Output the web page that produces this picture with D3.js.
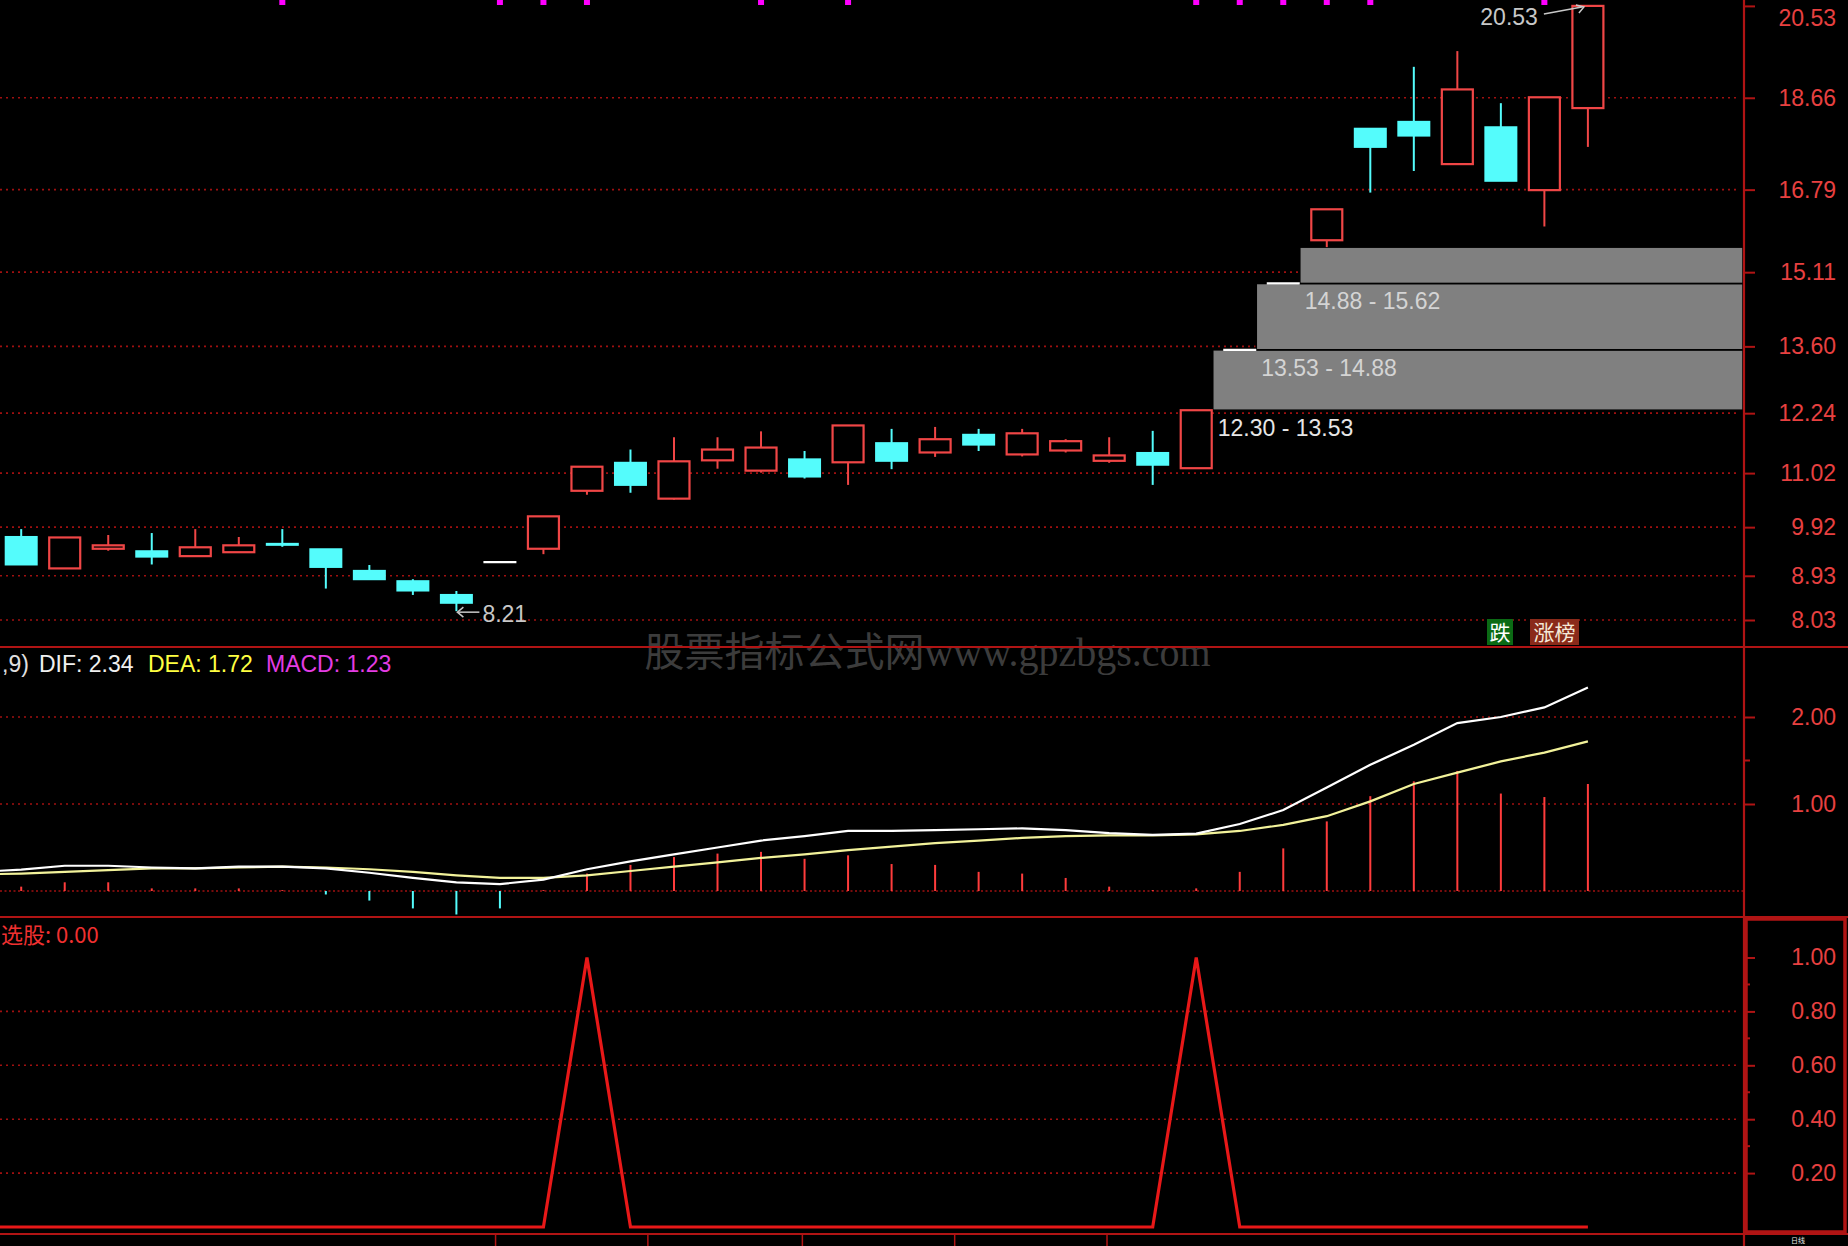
<!DOCTYPE html>
<html><head><meta charset="utf-8">
<script src="https://cdn.jsdelivr.net/npm/d3@7"></script>
<style>html,body{margin:0;padding:0;background:#000;overflow:hidden}svg{display:block}</style>
</head><body>
<svg id="c" width="1848" height="1246"></svg>
<script>
// ---------- data ----------
const openP  = [9.72,9.08,9.48,9.43,9.33,9.41,9.58,9.47,9.03,8.82,8.54,9.21,9.48,10.66,11.23,10.50,11.28,11.07,11.30,11.24,11.63,11.44,11.80,11.40,11.48,11.27,11.43,11.12,13.53,14.88,15.76,18.03,18.17,17.31,18.06,16.78,18.45];
const highP  = [9.88,9.71,9.76,9.80,9.88,9.72,9.88,9.47,9.15,8.86,8.62,9.21,10.14,11.15,11.50,11.75,11.75,11.87,11.47,11.99,11.92,11.96,11.92,11.92,11.71,11.75,11.88,12.30,13.53,14.88,16.39,18.03,19.29,19.61,18.55,18.67,20.53];
const lowP   = [9.16,9.08,9.44,9.16,9.33,9.41,9.52,8.67,8.86,8.54,8.21,9.21,9.37,10.58,10.62,10.48,11.11,11.03,10.91,10.78,11.10,11.35,11.47,11.36,11.44,11.23,10.78,11.12,13.53,14.88,15.62,16.73,17.17,17.31,16.97,16.04,17.66];
const closeP = [9.16,9.71,9.55,9.32,9.51,9.55,9.56,9.11,8.86,8.63,8.38,9.21,10.14,11.15,10.78,11.26,11.50,11.54,10.95,11.99,11.27,11.71,11.60,11.83,11.67,11.38,11.19,12.30,13.53,14.88,16.39,17.66,17.89,18.83,16.97,18.67,20.53];
// indicator series: first value belongs to the day just before the visible window
const difV = [0.22,0.245,0.29,0.29,0.27,0.26,0.28,0.28,0.26,0.21,0.15,0.10,0.08,0.13,0.25,0.34,0.42,0.50,0.58,0.63,0.69,0.69,0.70,0.71,0.72,0.70,0.665,0.645,0.66,0.77,0.93,1.19,1.45,1.68,1.93,2.00,2.11,2.34];
const deaV = [0.19,0.20,0.22,0.24,0.26,0.26,0.27,0.28,0.27,0.25,0.22,0.18,0.15,0.15,0.18,0.23,0.28,0.33,0.38,0.42,0.47,0.51,0.55,0.58,0.61,0.63,0.64,0.64,0.65,0.69,0.76,0.86,1.03,1.23,1.36,1.49,1.59,1.72];
const selV = [0,0,0,0,0,0,0,0,0,0,0,0,0,0,1,0,0,0,0,0,0,0,0,0,0,0,0,0,1,0,0,0,0,0,0,0,0,0];
const macdV = [0.05,0.10,0.10,0.03,0.03,0.03,0.01,-0.04,-0.11,-0.20,-0.27,-0.20,0.01,0.20,0.30,0.39,0.43,0.45,0.37,0.41,0.31,0.30,0.22,0.20,0.15,0.05,0.01,0.03,0.22,0.49,0.80,1.09,1.26,1.38,1.12,1.08,1.23];
const gapLow   = [12.30,13.53,14.88];
const gapHigh  = [13.53,14.88,15.62];
const gapStart = [27,28,29];
const markerIdx = [6,11,12,13,17,19,27,28,29,30,31,35];
const priceTicks = [20.53,18.66,16.79,15.11,13.60,12.24,11.02,9.92,8.93,8.03];
const macdTicks = [2.00,1.00];
const macdMinor = [1.5];
const selTicks = [1.00,0.80,0.60,0.40,0.20];
const selMinor = [0.9,0.7,0.5,0.3];
const dateTickIdx = [10.9,14.4,17.95,21.45,24.95];
const legendMacd = {head:",9)", dif:"DIF: 2.34", dea:"DEA: 1.72", macd:"MACD: 1.23"};
const legendSel = "选股: 0.00";

// ---------- layout ----------
const svg = d3.select('#c');
const AX = 1744;
const FONT = '"Liberation Sans", Arial, sans-serif';
const RED = '#f04646', CYAN = '#54fcfc', AXC = '#b01414', GRID = '#a01010';
const x = d3.scaleLinear().domain([0,36]).range([21.2,1587.9]);
const bw = 33;
const yP = d3.scaleLinear().domain([8.03,20.53]).range([620,5.9]);
const yM = d3.scaleLinear().domain([0,2]).range([891,717]);
const yS = d3.scaleLinear().domain([0,1]).range([1227,957.5]);

svg.append('rect').attr('width',1848).attr('height',1246).attr('fill','#000');

// watermark
svg.append('text').attr('x',787*1848/1568).attr('y',666).attr('text-anchor','middle')
  .attr('font-family','"Liberation Serif","Noto Sans CJK SC",serif')
  .attr('font-size',40).attr('fill','#3c3c3c').text('股票指标公式网www.gpzbgs.com');

// gridlines
const grid = svg.append('g').attr('stroke',GRID).attr('stroke-width',1.6).attr('stroke-dasharray','2,4');
priceTicks.slice(1).forEach(v=>grid.append('line').attr('x1',0).attr('x2',AX-4).attr('y1',yP(v)).attr('y2',yP(v)));
macdTicks.forEach(v=>grid.append('line').attr('x1',0).attr('x2',AX-4).attr('y1',yM(v)).attr('y2',yM(v)));
grid.append('line').attr('x1',0).attr('x2',AX).attr('y1',yM(0)).attr('y2',yM(0)).attr('stroke-dasharray','2,2.5');
selTicks.slice(1).forEach(v=>grid.append('line').attr('x1',0).attr('x2',AX-4).attr('y1',yS(v)).attr('y2',yS(v)));

// gap boxes
const gb = svg.append('g');
gapLow.forEach((lo,k)=>{
  const x0 = x(gapStart[k]) + bw/2;
  gb.append('rect').attr('x',x0).attr('y',yP(gapHigh[k])).attr('width',AX-1-x0)
    .attr('height',yP(lo)-yP(gapHigh[k])).attr('fill','#808080').attr('stroke','#000').attr('stroke-width',1.6);
  gb.append('text').attr('x',x0+5).attr('y',yP(lo)+26).attr('font-family',FONT).attr('font-size',23)
    .attr('fill',k===0?'#e6e6e6':'#d4d4d4').text(lo.toFixed(2)+' - '+gapHigh[k].toFixed(2));
});

// candles
const cg = svg.append('g');
openP.forEach((o,i)=>{
  const c = closeP[i], h = highP[i], l = lowP[i], cx = x(i);
  if (o===c) {
    cg.append('line').attr('x1',cx-bw/2).attr('x2',cx+bw/2).attr('y1',yP(c)).attr('y2',yP(c)).attr('stroke','#fff').attr('stroke-width',2.2);
    if (h>l) cg.append('line').attr('x1',cx).attr('x2',cx).attr('y1',yP(h)).attr('y2',yP(l)).attr('stroke','#fff').attr('stroke-width',2);
    return;
  }
  const up = c>o, col = up?RED:CYAN;
  const top = Math.max(o,c), bot = Math.min(o,c);
  if (h>top) cg.append('line').attr('x1',cx).attr('x2',cx).attr('y1',yP(h)).attr('y2',yP(top)).attr('stroke',col).attr('stroke-width',2);
  if (l<bot) cg.append('line').attr('x1',cx).attr('x2',cx).attr('y1',yP(bot)).attr('y2',yP(l)).attr('stroke',col).attr('stroke-width',2);
  if (up) cg.append('rect').attr('x',cx-bw/2+1).attr('y',yP(top)).attr('width',bw-2).attr('height',Math.max(1,yP(bot)-yP(top)))
    .attr('fill','#000').attr('stroke',col).attr('stroke-width',2.2);
  else cg.append('rect').attr('x',cx-bw/2).attr('y',yP(top)-1).attr('width',bw).attr('height',Math.max(2,yP(bot)-yP(top)+2)).attr('fill',col);
});

// top markers
markerIdx.forEach(i=>svg.append('rect').attr('x',x(i)-3).attr('y',0).attr('width',6).attr('height',5).attr('fill','#ff00ff'));

// extreme labels
const hiI = d3.maxIndex(highP), loI = d3.minIndex(lowP);
const lab = svg.append('g').attr('font-family',FONT).attr('font-size',23).attr('fill','#c8c8c8');
lab.append('text').attr('x',x(hiI)-50).attr('y',yP(highP[hiI])+19).attr('text-anchor','end').text(highP[hiI].toFixed(2));
lab.append('line').attr('x1',x(hiI)-44).attr('y1',yP(highP[hiI])+8).attr('x2',x(hiI)-6).attr('y2',yP(highP[hiI])+1).attr('stroke','#c8c8c8').attr('stroke-width',1.5);
lab.append('path').attr('d',`M${x(hiI)-12},${yP(highP[hiI])-1}L${x(hiI)-4},${yP(highP[hiI])+1}L${x(hiI)-9},${yP(highP[hiI])+7}`).attr('fill','none').attr('stroke','#c8c8c8').attr('stroke-width',1.5);
lab.append('text').attr('x',x(loI)+26).attr('y',yP(lowP[loI])+11).text(lowP[loI].toFixed(2));
lab.append('line').attr('x1',x(loI)+2).attr('y1',yP(lowP[loI])+1).attr('x2',x(loI)+23).attr('y2',yP(lowP[loI])+1).attr('stroke','#c8c8c8').attr('stroke-width',1.5);
lab.append('path').attr('d',`M${x(loI)+7},${yP(lowP[loI])-4}L${x(loI)+1},${yP(lowP[loI])+1}L${x(loI)+7},${yP(lowP[loI])+6}`).attr('fill','none').attr('stroke','#c8c8c8').attr('stroke-width',1.5);

// buttons
svg.append('rect').attr('x',1487).attr('y',619).attr('width',26).attr('height',26).attr('fill','#0b6a14');
svg.append('text').attr('x',1500).attr('y',640).attr('text-anchor','middle').attr('font-family','"Noto Sans CJK SC"').attr('font-size',21).attr('fill','#fff').text('跌');
svg.append('rect').attr('x',1530).attr('y',619).attr('width',49).attr('height',26).attr('fill','#8a2a1a');
svg.append('text').attr('x',1554.5).attr('y',640).attr('text-anchor','middle').attr('font-family','"Noto Sans CJK SC"').attr('font-size',21).attr('fill','#f4e8d8').text('涨榜');

// MACD panel
const mg = svg.append('g');
macdV.forEach((v,i)=>mg.append('line').attr('x1',x(i)).attr('x2',x(i)).attr('y1',yM(0)).attr('y2',yM(v))
  .attr('stroke',v>=0?'#ff3c3c':CYAN).attr('stroke-width',2));
const lineI = d3.line().x((d,i)=>x(i-1));
mg.append('path').attr('d',lineI.y(d=>yM(d))(deaV)).attr('fill','none').attr('stroke','#f2f29a').attr('stroke-width',2.2);
mg.append('path').attr('d',lineI.y(d=>yM(d))(difV)).attr('fill','none').attr('stroke','#ffffff').attr('stroke-width',2.2);
const leg = svg.append('g').attr('font-family',FONT).attr('font-size',23);
leg.append('text').attr('x',2).attr('y',672).attr('fill','#e0e0e0').text(legendMacd.head);
leg.append('text').attr('x',39).attr('y',672).attr('fill','#f0f0f0').text(legendMacd.dif);
leg.append('text').attr('x',148).attr('y',672).attr('fill','#ffff40').text(legendMacd.dea);
leg.append('text').attr('x',266).attr('y',672).attr('fill','#e43ce4').text(legendMacd.macd);

// selection panel
svg.append('path').attr('d',d3.line().x((d,i)=>x(i-1)).y(d=>yS(d))(selV)).attr('fill','none').attr('stroke','#e81818').attr('stroke-width',3.2);
svg.append('text').attr('x',1).attr('y',943).attr('font-family','"Noto Sans CJK SC", '+FONT).attr('font-size',22).attr('fill','#f03030').text(legendSel);

// dividers and axis
const ax = svg.append('g').attr('stroke',AXC);
[647,917,1234].forEach(y=>ax.append('line').attr('x1',0).attr('x2',1848).attr('y1',y).attr('y2',y).attr('stroke-width',2.2));
ax.append('line').attr('x1',AX).attr('x2',AX).attr('y1',0).attr('y2',1246).attr('stroke-width',2.2);
ax.append('rect').attr('x',AX+2).attr('y',919).attr('width',99).attr('height',313).attr('fill','none').attr('stroke-width',3.5);
dateTickIdx.forEach(t=>ax.append('line').attr('x1',x(t)).attr('x2',x(t)).attr('y1',1235).attr('y2',1246).attr('stroke-width',1.5));

function rightAxis(scale, major, minor){
  const g = svg.append('g').attr('transform',`translate(${AX},0)`)
    .call(d3.axisRight(scale).tickValues(major).tickSize(11).tickFormat(d3.format('.2f')));
  g.select('.domain').remove();
  g.selectAll('line').attr('stroke',AXC).attr('stroke-width',2);
  g.selectAll('text').attr('x',92).attr('text-anchor','end').attr('fill','#e84040')
    .attr('font-family',FONT).attr('font-size',23)
    .attr('dy', function(){ const t=+d3.select(this.parentNode).attr('transform').match(/,([\d.]+)/)[1]; return t<12 ? '0.85em' : '0.32em'; });
  minor.forEach(v=>g.append('line').attr('x1',0).attr('x2',6).attr('y1',scale(v)).attr('y2',scale(v)).attr('stroke',AXC).attr('stroke-width',2));
}
rightAxis(yP, priceTicks, []);
rightAxis(yM, macdTicks, macdMinor);
rightAxis(yS, selTicks, selMinor);

svg.append('text').attr('x',1798).attr('y',1242.5).attr('text-anchor','middle').attr('font-family','"Noto Sans CJK SC"').attr('font-size',7).attr('fill','#e8e8e8').text('日线');
</script>
</body></html>
